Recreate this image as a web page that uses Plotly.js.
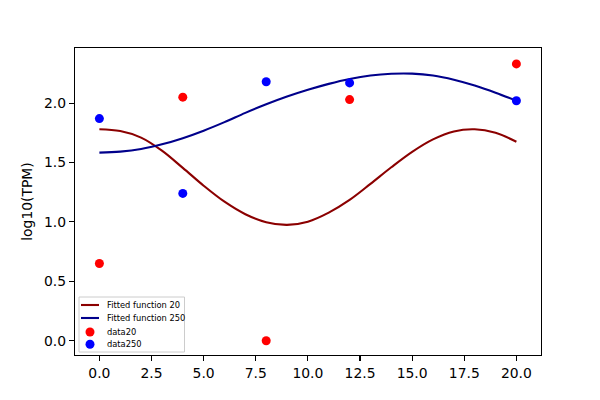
<!DOCTYPE html>
<html>
<head>
<meta charset="utf-8">
<script src="https://cdn.plot.ly/plotly-3.0.1.min.js"></script>
<style>html,body{margin:0;padding:0;background:#fff;}#chart{width:600px;height:400px;}</style>
</head>
<body>
<div id="chart"></div>
<script>
// Observed data
var timePoints = [0, 4, 8, 12, 20];
var data20 = [0.65, 2.05, 0.00, 2.03, 2.33];
var data250 = [1.87, 1.24, 2.18, 2.17, 2.02];

// Fitted curves at integer x
var fitX = [0,1,2,3,4,5,6,7,8,9,10,11,12,13,14,15,16,17,18,19,20];
var fit20 = [1.78,1.765,1.71,1.60,1.455,1.305,1.17,1.065,0.998,0.975,1.002,1.078,1.185,1.32,1.46,1.59,1.695,1.762,1.78,1.75,1.675];
var fit250 = [1.583,1.592,1.614,1.653,1.705,1.768,1.84,1.918,1.99,2.055,2.112,2.162,2.203,2.232,2.247,2.248,2.232,2.197,2.148,2.088,2.02];

var seriesNames = ['Fitted function 20', 'Fitted function 250', 'data20', 'data250'];
var seriesColors = ['#8b0000', '#00008b', '#ff0000', '#0000ff'];

var traces = [
  {x: fitX, y: fit20, mode: 'lines', name: seriesNames[0], showlegend: false,
   line: {color: seriesColors[0], width: 2.1, shape: 'spline', smoothing: 1}},
  {x: fitX, y: fit250, mode: 'lines', name: seriesNames[1], showlegend: false,
   line: {color: seriesColors[1], width: 2.1, shape: 'spline', smoothing: 1}},
  {x: timePoints, y: data20, mode: 'markers', name: seriesNames[2], showlegend: false,
   marker: {color: seriesColors[2], size: 9}},
  {x: timePoints, y: data250, mode: 'markers', name: seriesNames[3], showlegend: false,
   marker: {color: seriesColors[3], size: 9}}
];

// plot area geometry (pixels) for a matplotlib-style legend box
var PL = 75, PR = 541, PT = 48, PB = 355;
function fx(px) { return (px - PL) / (PR - PL); }
function fy(py) { return (PB - py) / (PB - PT); }

var shapes = [
  {type: 'rect', xref: 'paper', yref: 'paper', x0: fx(79), x1: fx(184.5), y0: fy(352), y1: fy(297),
   line: {color: '#cccccc', width: 1}, fillcolor: 'rgba(255,255,255,0.8)', layer: 'above'}
];
var annotations = [];
var rowY = [305, 318, 332, 344.3];
for (var i = 0; i < 4; i++) {
  if (i < 2) {
    shapes.push({type: 'line', xref: 'paper', yref: 'paper', x0: fx(81), x1: fx(99), y0: fy(rowY[i]), y1: fy(rowY[i]),
      line: {color: seriesColors[i], width: 2.1}, layer: 'above'});
  } else {
    shapes.push({type: 'circle', xref: 'paper', yref: 'paper', x0: fx(85.5), x1: fx(94.5), y0: fy(rowY[i] + 4.5), y1: fy(rowY[i] - 4.5),
      line: {width: 0}, fillcolor: seriesColors[i], layer: 'above'});
  }
  annotations.push({xref: 'paper', yref: 'paper', x: fx(104.5), y: fy(rowY[i]), xanchor: 'left', yanchor: 'middle',
    text: seriesNames[i], showarrow: false, font: {family: 'DejaVu Sans', size: 8.3, color: '#000'}});
}

var axisCommon = {
  showgrid: false, zeroline: false, showline: true, mirror: true,
  linecolor: '#000', linewidth: 1.1, ticks: 'outside', ticklen: 5, tickwidth: 1.1,
  tickcolor: '#000', tickfont: {family: 'DejaVu Sans', size: 13.9, color: '#000'}
};

var xTickVals = [0, 2.5, 5, 7.5, 10, 12.5, 15, 17.5, 20];
var xTickText = ['0.0','2.5','5.0','7.5','10.0','12.5','15.0','17.5','20.0'];
var yTickVals = [0, 0.5, 1, 1.5, 2];
var yTickText = ['0.0','0.5','1.0','1.5','2.0'];

var layout = {
  width: 600, height: 400,
  margin: {l: PL, r: 600 - PR, t: PT, b: 400 - PB},
  paper_bgcolor: '#fff', plot_bgcolor: '#fff',
  font: {family: 'DejaVu Sans', color: '#000'},
  xaxis: Object.assign({}, axisCommon, {
    range: [-1.17, 21.18], tickvals: xTickVals, ticktext: xTickText
  }),
  yaxis: Object.assign({}, axisCommon, {
    range: [-0.12, 2.464], tickvals: yTickVals, ticktext: yTickText,
    title: {text: 'log10(TPM)', font: {family: 'DejaVu Sans', size: 13.9, color: '#000'}, standoff: 8}
  }),
  showlegend: false,
  shapes: shapes,
  annotations: annotations
};

Plotly.newPlot('chart', traces, layout, {staticPlot: true, displayModeBar: false});
</script>
</body>
</html>
